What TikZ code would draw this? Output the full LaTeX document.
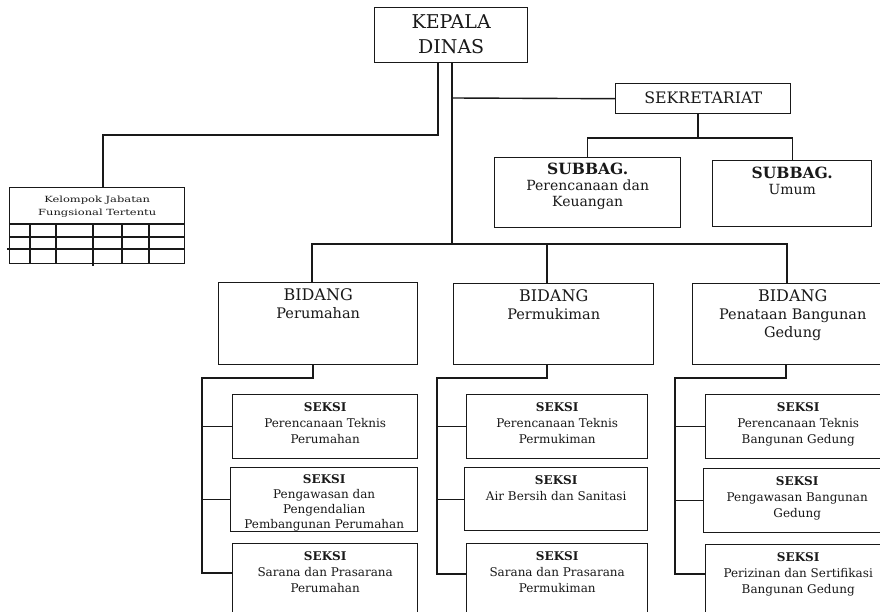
\documentclass[tikz,border=0pt]{standalone}
\usepackage{graphicx}
\usepackage{fontspec}
\setmainfont{DejaVu Serif}
\newcommand\bx[5]{\node[box,anchor=north west,minimum width={(#4-#2)*1pt},minimum height={(#5-#3)*1pt}] (#1) at (#2,#3) {};}
\newcommand\hdSub{\fontsize{15.5}{16}\selectfont\bfseries}
\newcommand\hdSek{\fontsize{12}{16}\selectfont\bfseries}
\newcommand\hdBid{\fontsize{16}{18}\selectfont}
\begin{document}
\begin{tikzpicture}[x=1pt,y=-1pt,
  box/.style={draw=black!90,line width=1.4pt,rectangle,inner sep=0pt,fill=none},
  conn/.style={draw=black!90,line width=1.4pt},
  gridl/.style={draw=black!90,line width=1.1pt},
  txt/.style={inner sep=0pt,align=center,anchor=north,text=black!90},
  big/.style={font=\fontsize{19}{25}\selectfont},
  mid/.style={font=\fontsize{15.8}{18}\selectfont},
  bidsub/.style={font=\fontsize{14.5}{18}\selectfont},
  subsub/.style={font=\fontsize{14}{16}\selectfont},
  small/.style={font=\fontsize{12}{16}\selectfont},
  smallt/.style={font=\fontsize{12}{15}\selectfont},
  tiny/.style={font=\fontsize{8.5}{13}\selectfont}]
\useasboundingbox (0,0) rectangle (880,612);
\fill[white] (0,0) rectangle (880,612);
\clip (0,0) rectangle (880,612);

% boxes
\bx{kepala}{374}{7}{527}{62}
\bx{sekr}{615}{83}{790}{113}
\bx{sub1}{494}{157}{680}{227}
\bx{sub2}{712}{160}{871}{226}
\bx{kjft}{9}{187}{184}{263}
\bx{bid1}{218}{282}{417}{364}
\bx{bid2}{453}{283}{653}{364}
\bx{bid3}{692}{283}{892}{364}
\bx{s11}{232}{394}{417}{458}
\bx{s12}{230}{467}{417}{531}
\bx{s13}{232}{543}{417}{630}
\bx{s21}{466}{394}{647}{458}
\bx{s22}{464}{467}{647}{530}
\bx{s23}{466}{543}{647}{630}
\bx{s31}{705}{394}{890}{458}
\bx{s32}{703}{468}{890}{532}
\bx{s33}{705}{544}{890}{630}

% table grid inside the Kelompok box
\draw[gridl] (9,224) -- (184,224);
\draw[gridl] (9,237) -- (184,237);
\draw[gridl] (7,249) -- (184,249);
\foreach \cx/\cb in {30/263,56/263,93/266,122/263,149/263}
  \draw[gridl] (\cx,224) -- (\cx,\cb);

% texts
\node[txt,big] (kepala-t) at ([yshift=-7pt]kepala.north) {KEPALA\\DINAS};
\node[txt,mid,anchor=center] (sekr-t) at ([yshift=0.5pt]sekr.center) {SEKRETARIAT};
\node[txt,subsub] (sub1-t) at ([yshift=-6pt]sub1.north) {{\hdSub SUBBAG.}\\Perencanaan dan\\Keuangan};
\node[txt,subsub] (sub2-t) at ([yshift=-7pt]sub2.north) {{\hdSub SUBBAG.}\\Umum};
\node[txt,tiny] (kjft-t) at ([yshift=-9pt]kjft.north) {\scalebox{1.35}[1]{Kelompok Jabatan}\\\scalebox{1.35}[1]{Fungsional Tertentu}};

\node[txt,bidsub] (bid1-t) at ([yshift=-6pt]bid1.north) {{\hdBid BIDANG}\\Perumahan};
\node[txt,bidsub] (bid2-t) at ([yshift=-6pt]bid2.north) {{\hdBid BIDANG}\\Permukiman};
\node[txt,bidsub] (bid3-t) at ([yshift=-6pt]bid3.north) {{\hdBid BIDANG}\\Penataan Bangunan\\Gedung};

\node[txt,small] (s11-t) at ([yshift=-8pt]s11.north) {{\hdSek SEKSI}\\Perencanaan Teknis\\Perumahan};
\node[txt,smallt] (s12-t) at ([yshift=-7pt]s12.north) {{\hdSek SEKSI}\\Pengawasan dan\\Pengendalian\\Pembangunan Perumahan};
\node[txt,small] (s13-t) at ([yshift=-8pt]s13.north) {{\hdSek SEKSI}\\Sarana dan Prasarana\\Perumahan};
\node[txt,small] (s21-t) at ([yshift=-8pt]s21.north) {{\hdSek SEKSI}\\Perencanaan Teknis\\Permukiman};
\node[txt,small] (s22-t) at ([yshift=-8pt]s22.north) {{\hdSek SEKSI}\\Air Bersih dan Sanitasi};
\node[txt,small] (s23-t) at ([yshift=-8pt]s23.north) {{\hdSek SEKSI}\\Sarana dan Prasarana\\Permukiman};
\node[txt,small] (s31-t) at ([yshift=-8pt]s31.north) {{\hdSek SEKSI}\\Perencanaan Teknis\\Bangunan Gedung};
\node[txt,small] (s32-t) at ([yshift=-8pt]s32.north) {{\hdSek SEKSI}\\Pengawasan Bangunan\\Gedung};
\node[txt,small] (s33-t) at ([yshift=-8pt]s33.north) {{\hdSek SEKSI}\\Perizinan dan Sertifikasi\\Bangunan Gedung};

% junction coordinates
\coordinate (kA) at (438,135);
\coordinate (kD) at (103,135);
\coordinate (kB) at (452,244);
\coordinate (sk) at (452,98);
\coordinate (sJ) at (698,138);
\coordinate (bL) at (312,244);
\coordinate (bM) at (547,244);
\coordinate (bR) at (787,244);
\coordinate (c1) at (313,378);
\coordinate (c1v) at (202,378);
\coordinate (e1) at (202,573);
\coordinate (c2) at (547,378);
\coordinate (c2v) at (437,378);
\coordinate (e2) at (437,574);
\coordinate (c3) at (786,378);
\coordinate (c3v) at (675,378);
\coordinate (e3) at (675,574);

% connectors
\draw[conn] (kepala.south -| kA) -- (kA) -- (kD) -- (kjft.north -| kD);
\draw[conn] (kepala.south -| kB) -- (kB);
\draw[conn] (sk) -- (sekr.west);
\draw[conn] (sekr.south -| sJ) -- (sJ);
\draw[conn] (sub1.north) |- (sJ) -| (sub2.north);
\draw[conn] (bid1.north -| bL) -- (bL) -- (bR) -- (bid3.north -| bR);
\draw[conn] (bM) -- (bid2.north -| bM);

\draw[conn] (bid1.south -| c1) -- (c1) -- (c1v) -- (e1) -- (e1 -| s13.west);
\draw[conn] (s11.west -| c1v) -- (s11.west);
\draw[conn] (s12.west -| c1v) -- (s12.west);

\draw[conn] (bid2.south -| c2) -- (c2) -- (c2v) -- (e2) -- (e2 -| s23.west);
\draw[conn] (s21.west -| c2v) -- (s21.west);
\draw[conn] (s22.west -| c2v) -- (s22.west);

\draw[conn] (bid3.south -| c3) -- (c3) -- (c3v) -- (e3) -- (e3 -| s33.west);
\draw[conn] (s31.west -| c3v) -- (s31.west);
\draw[conn] (s32.west -| c3v) -- (s32.west);
\end{tikzpicture}
\end{document}
